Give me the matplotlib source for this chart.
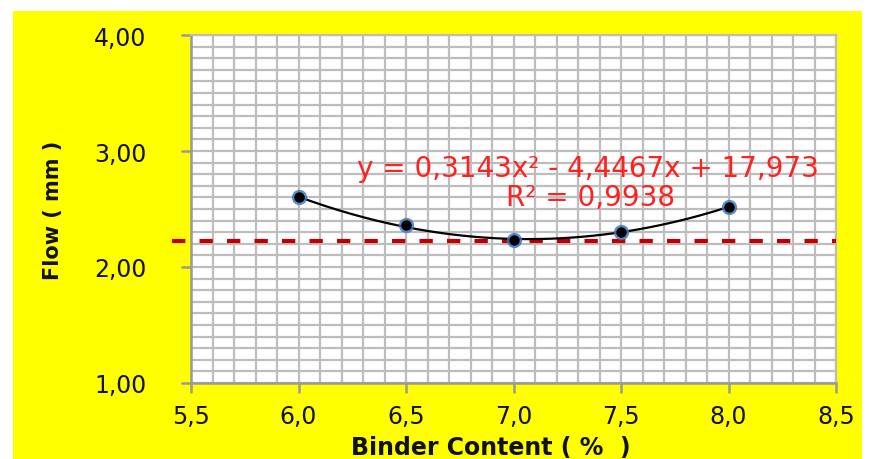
import matplotlib
matplotlib.use("Agg")
import matplotlib.pyplot as plt
import numpy as np
from matplotlib.patches import Rectangle
from matplotlib.ticker import MultipleLocator, FuncFormatter

# Data
binder_content = [6.0, 6.5, 7.0, 7.5, 8.0]
flow_mm = [2.60, 2.36, 2.23, 2.30, 2.52]
reference_flow = 2.22
equation_text = "y = 0,3143x² - 4,4467x + 17,973"
r2_text = "R² = 0,9938"
x_label = "Binder Content ( %  )"
y_label = "Flow ( mm )"

W, H = 869, 460
fig = plt.figure(figsize=(W / 100, H / 100), dpi=100)
fig.patch.set_facecolor("white")
fig.patches.append(Rectangle((13 / W, 0), (862 - 13) / W, (460 - 12) / H,
                             transform=fig.transFigure, facecolor="#ffff00",
                             edgecolor="none", zorder=-10))

ax = fig.add_axes([191 / W, (H - 384) / H, (836 - 191) / W, (384 - 36) / H])
ax.set_facecolor("white")
ax.set_xlim(5.5, 8.5)
ax.set_ylim(1.0, 4.0)

ax.xaxis.set_major_locator(MultipleLocator(0.5))
ax.xaxis.set_minor_locator(MultipleLocator(0.1))
ax.yaxis.set_major_locator(MultipleLocator(1.0))
ax.yaxis.set_minor_locator(MultipleLocator(0.1))
ax.xaxis.set_major_formatter(FuncFormatter(lambda v, p: f"{v:.1f}".replace(".", ",")))
ax.yaxis.set_major_formatter(FuncFormatter(lambda v, p: f"{v:.2f}".replace(".", ",")))

grid_color = "#bdbdbd"
ax.grid(True, which="both", color=grid_color, linewidth=1.6, zorder=0)
ax.set_axisbelow(True)
for s in ["top", "right"]:
    ax.spines[s].set_color(grid_color)
    ax.spines[s].set_linewidth(1.6)
for s in ["left", "bottom"]:
    ax.spines[s].set_color("#999999")
    ax.spines[s].set_linewidth(1.8)

ax.tick_params(which="major", direction="out", length=7, width=1.8, color="#999999",
               labelsize=17, labelcolor="#111111")
ax.tick_params(axis="y", pad=25)
ax.tick_params(axis="x", pad=8)
ax.tick_params(which="minor", length=0)

# Reference dashed line (extends slightly left of the plot area)
ax.plot([5.41, 8.5], [reference_flow, reference_flow], color="#c00000", linewidth=3,
        linestyle=(0, (3.2, 3.4)), clip_on=False, zorder=3)

# Polynomial trendline
coef = np.polyfit(binder_content, flow_mm, 2)
xs = np.linspace(min(binder_content), max(binder_content), 200)
ax.plot(xs, np.polyval(coef, xs), color="black", linewidth=1.6, zorder=4)

# Data points
ax.plot(binder_content, flow_mm, linestyle="none", marker="o", markersize=11,
        markerfacecolor="#3f78c0", markeredgecolor="none", alpha=0.85, zorder=5)
ax.plot(binder_content, flow_mm, linestyle="none", marker="o", markersize=7.5,
        markerfacecolor="black", markeredgecolor="none", zorder=6)

ax.text(7.346, 2.85, equation_text, color="#ff2020", fontsize=20, ha="center", va="center", zorder=7)
ax.text(7.36, 2.60, r2_text, color="#ff2020", fontsize=20, ha="center", va="center", zorder=7)

ax.set_xlabel(x_label, fontsize=17, fontweight="bold", color="#111111")
ax.set_ylabel(y_label, fontsize=15, fontweight="bold", color="#111111")
ax.xaxis.set_label_coords(0.465, -0.148)
ax.yaxis.set_label_coords(-0.198, 0.5)

fig.savefig("out.png", dpi=100)
